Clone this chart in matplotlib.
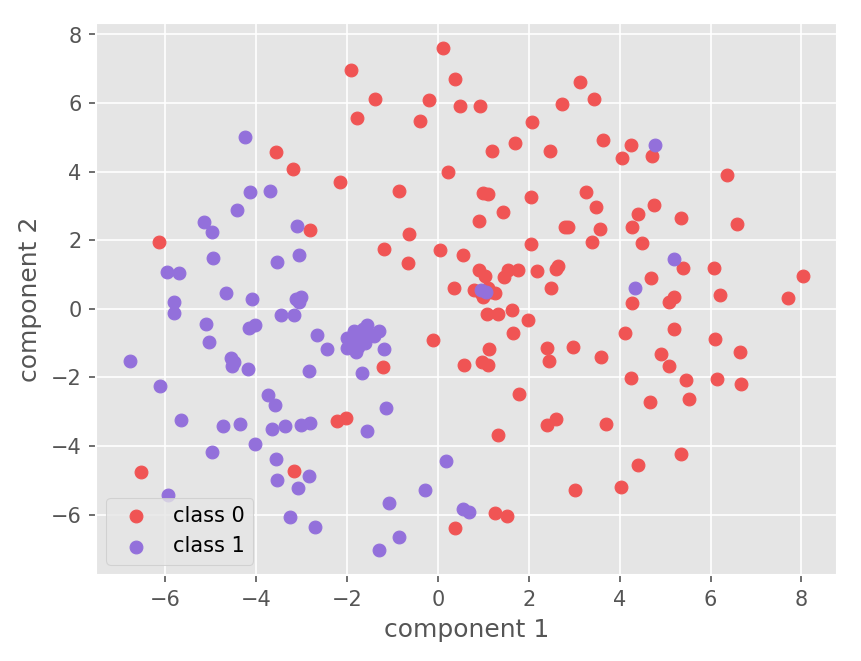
import matplotlib
matplotlib.use("Agg")
import matplotlib.pyplot as plt

plt.style.use('ggplot')

# class 0 (red) points
x0 = [0.11, -1.92, 0.38, -1.39, -0.20, 3.13, -1.77, -0.40, 0.49, 0.93, 2.74, 3.44,
      2.08, 1.69, 1.19, 2.46, 0.23, -2.15, -0.86, 0.99, 1.11, 2.05, 3.27, 1.43,
      0.90, 2.80, 2.87, -0.64, -1.19, 0.04, -0.66, 0.55, 2.04, 3.40, 0.90, 1.03,
      1.55, 1.77, 1.45, 2.18, 2.65, 2.61, 0.35, 2.49,
      0.80, 0.95, 1.15, 1.25, 1.00, 1.10,
      3.63, 4.24, 4.06, 4.71, 6.36, 3.49, 4.76, 4.40, 5.35, 6.59, 3.57, 4.28,
      4.50, 5.39, 6.07, 4.69, 8.04, 6.20, 7.71, 4.28, 5.08, 5.20,
      4.11, 5.20, 6.09, 6.64, 3.58, 4.92, 5.09, 4.26, 5.45, 6.14, 6.67, 4.67,
      5.52, 3.69, 5.36, 4.40, 4.03,
      1.09, 1.33, 1.63, 1.99, 1.65, -0.11, 1.13, 2.40, 2.98, 0.57, 0.97, 1.10,
      2.45, -1.21, 1.78, -2.01, -2.22, 2.41, 2.59, 1.32, 3.02, 1.26, 1.52, 0.38,
      -3.55, -3.19, -2.81, -6.14, -6.54, -3.16]
y0 = [7.60, 6.97, 6.69, 6.13, 6.10, 6.60, 5.56, 5.48, 5.90, 5.90, 5.98, 6.13,
      5.45, 4.83, 4.61, 4.61, 3.99, 3.70, 3.45, 3.39, 3.36, 3.25, 3.42, 2.81,
      2.56, 2.40, 2.40, 2.18, 1.74, 1.71, 1.34, 1.56, 1.89, 1.94, 1.13, 0.97,
      1.13, 1.13, 0.92, 1.09, 1.26, 1.17, 0.62, 0.61,
      0.55, 0.45, 0.50, 0.45, 0.35, 0.60,
      4.93, 4.78, 4.39, 4.46, 3.89, 2.98, 3.04, 2.76, 2.66, 2.48, 2.33, 2.38,
      1.93, 1.19, 1.19, 0.89, 0.97, 0.40, 0.32, 0.17, 0.21, 0.34,
      -0.70, -0.59, -0.88, -1.27, -1.40, -1.32, -1.66, -2.02, -2.08, -2.05, -2.20, -2.73,
      -2.64, -3.37, -4.22, -4.56, -5.19,
      -0.15, -0.15, -0.02, -0.32, -0.70, -0.90, -1.17, -1.14, -1.10, -1.64, -1.56, -1.64,
      -1.53, -1.69, -2.49, -3.17, -3.28, -3.40, -3.22, -3.68, -5.29, -5.94, -6.05, -6.40,
      4.57, 4.07, 2.29, 1.95, -4.75, -4.73]

# class 1 (purple) points
x1 = [0.95, 1.05, 4.78, 5.19, 4.33,
      -1.55, -1.29, -1.80, -1.91, -1.80, -1.19, -1.67, -2.00, -1.95, -1.70, -1.60,
      -1.75, -1.50, -1.40, -2.00, -1.85, -1.65,
      -1.14, -1.55, 0.18, -0.29, -1.08, 0.55, 0.68, -0.85, -1.30,
      -4.66, -5.80, -5.81, -4.08, -3.13, -3.02, -3.05, -3.44, -3.16, -5.09, -4.16,
      -4.03, -2.66, -5.04, -2.43, -6.78, -4.56, -4.49, -4.53, -4.17, -2.83, -6.12,
      -3.74, -3.58, -5.65, -4.72, -4.36, -3.64, -3.36, -3.02, -2.81, -4.03, -4.97,
      -3.56, -3.53, -3.07, -2.83, -5.93, -3.25, -2.71,
      -4.25, -4.13, -3.70, -4.42, -5.15, -4.96, -3.10, -4.95, -3.06, -5.96, -5.69,
      -3.53]
y1 = [0.55, 0.50, 4.79, 1.46, 0.60,
      -0.47, -0.66, -0.69, -0.93, -1.27, -1.18, -1.87, -0.85, -1.05, -0.80, -1.00,
      -1.10, -0.75, -0.80, -1.15, -0.65, -0.60,
      -2.90, -3.57, -4.43, -5.27, -5.67, -5.83, -5.91, -6.66, -7.03,
      0.46, 0.19, -0.12, 0.29, 0.29, 0.34, 0.19, -0.19, -0.19, -0.45, -0.55,
      -0.46, -0.77, -0.97, -1.16, -1.53, -1.44, -1.56, -1.66, -1.76, -1.80, -2.24,
      -2.51, -2.80, -3.23, -3.43, -3.37, -3.50, -3.42, -3.39, -3.33, -3.94, -4.17,
      -4.37, -4.98, -5.22, -4.88, -5.44, -6.07, -6.37,
      5.00, 3.40, 3.44, 2.87, 2.54, 2.24, 2.41, 1.48, 1.56, 1.07, 1.05,
      1.36]

fig = plt.figure(figsize=(5.74, 4.407), dpi=150)
ax = fig.add_axes([0.1115, 0.130, 0.8605, 0.835])

ax.scatter(x0, y0, color='#f05454', s=38, label='class 0')
ax.scatter(x1, y1, color='#9370db', s=38, label='class 1')

ax.set_xlabel("component 1")
ax.set_ylabel("component 2")
ax.legend(loc='lower left')

fig.savefig("out.png", dpi=150)
